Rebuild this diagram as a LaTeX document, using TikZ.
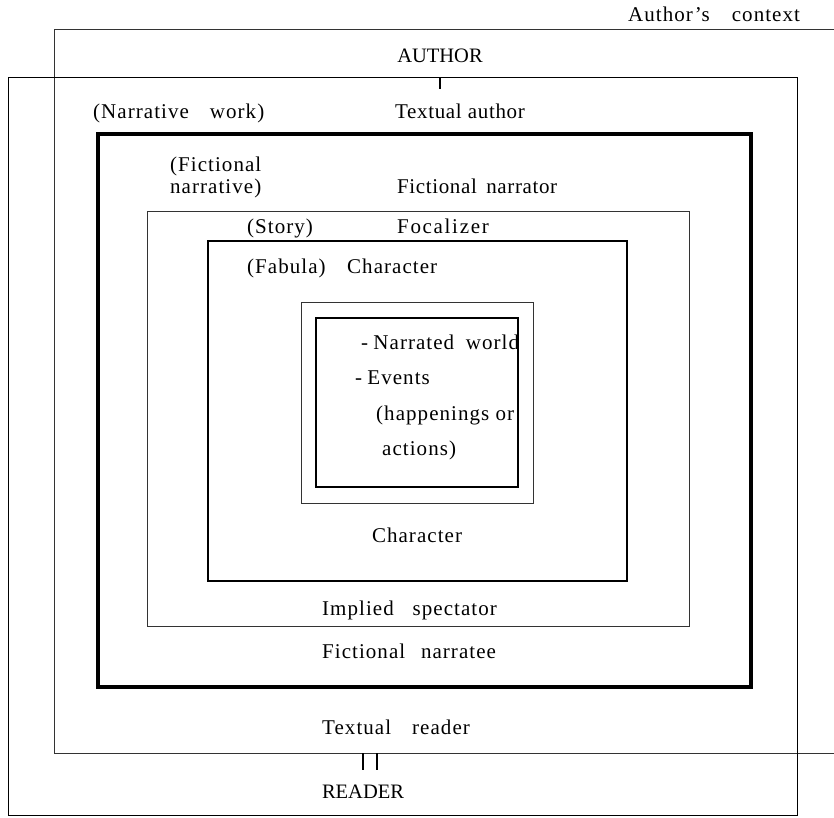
\documentclass[tikz,border=0pt]{standalone}
\usepackage{fontspec}
\setmainfont{Liberation Serif}
\newfontfamily\spaced[LetterSpace=5]{Liberation Serif}
\newfontfamily\spacedw[LetterSpace=8]{Liberation Serif}
\newfontfamily\spacedn[LetterSpace=3]{Liberation Serif}
\begin{document}
\begin{tikzpicture}[x=1pt,y=-1pt,
  lbl/.style={inner sep=0pt,font=\fontsize{21}{22}\spaced},
  wlbl/.style={inner sep=0pt,font=\fontsize{21}{22}\spacedw},
  nlbl/.style={inner sep=0pt,font=\fontsize{21}{22}\spacedn},
  caps/.style={inner sep=0pt,font=\fontsize{20.5}{22}\selectfont},
  thinbox/.style={draw=black!80,line width=0.8pt},
  midbox/.style={draw=black,line width=1.8pt},
  boldbox/.style={draw=black,line width=3.8pt},
  tick/.style={draw=black,line width=1.2pt}]
\useasboundingbox (0,0) rectangle (834,817);
% Author's context (open to the right)
\draw[thinbox] (834,29) -- (54,29) -- (54,753) -- (834,753);
% Reader box
\draw[draw=black,line width=1pt] (8,77) rectangle (797,815);
% bold box
\draw[boldbox] (98,134) rectangle (751,687);
% thin box
\draw[thinbox] (147,211) rectangle (689,626);
% medium box
\draw[midbox] (208,241) rectangle (627,581);
% inner boxes
\draw[thinbox,line width=1pt] (301,302) rectangle (533,503);
\draw[draw=black,line width=1.3pt] (316,318) rectangle (518,487);
% ticks
\coordinate (ta1) at (440,77); \coordinate (ta2) at (440,89);
\draw[tick] (ta1) -- (ta2);
\coordinate (tr1) at (363,753); \coordinate (tr2) at (363,770);
\coordinate (tr3) at (377,753); \coordinate (tr4) at (377,770);
\draw[tick] (tr1) -- (tr2);
\draw[tick] (tr3) -- (tr4);
% texts
\node[lbl,anchor=base west] (ctx) at (628,21) {Author’s\hspace{1.05em}context};
\node[caps,anchor=base] (author) at (440,62) {AUTHOR};
\node[nlbl,anchor=base west] (tauth) at (395,118) {Textual\hspace{0.3em}author};
\node[lbl,anchor=base west] (nwork) at (93,118) {(Narrative\hspace{1.0em}work)};
\node[lbl,anchor=base west] (fnarr1) at (170,171) {(Fictional};
\node[lbl,anchor=base west] (fnarr2) at (170,193) {narrative)};
\node[nlbl,anchor=base west] (fnarrator) at (397,193) {Fictional\hspace{0.45em}narrator};
\node[lbl,anchor=base west] (story) at (247,233) {(Story)};
\node[wlbl,anchor=base west] (focal) at (397,233) {Focalizer};
\node[lbl,anchor=base west] (fabula) at (247,273) {(Fabula)};
\node[lbl,anchor=base west] (char1) at (347,273) {Character};
\node[lbl,anchor=base west] (nworld) at (361,349) {-\hspace{0.25em}Narrated\hspace{0.55em}world};
\node[lbl,anchor=base west] (events) at (355,384) {-\hspace{0.25em}Events};
\node[lbl,anchor=base west] (happ) at (376,420) {(happenings\hspace{0.3em}or};
\node[lbl,anchor=base west] (actions) at (382,455) {actions)};
\node[lbl,anchor=base] (char2) at (417,542) {Character};
\node[lbl,anchor=base west] (implied) at (322,615) {Implied\hspace{0.9em}spectator};
\node[lbl,anchor=base west] (narratee) at (322,658) {Fictional\hspace{0.75em}narratee};
\node[lbl,anchor=base west] (treader) at (322,734) {Textual\hspace{1.0em}reader};
\node[caps,anchor=base] (reader) at (363,798) {READER};
\end{tikzpicture}
\end{document}
